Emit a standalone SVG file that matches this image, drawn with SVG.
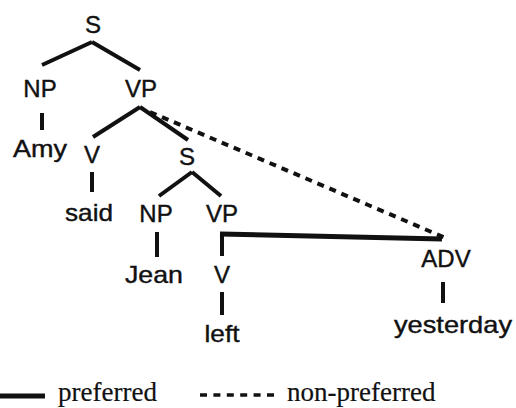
<svg xmlns="http://www.w3.org/2000/svg" width="516" height="408" viewBox="0 0 516 408">
<style>
text{font-family:"Liberation Sans",Arial,sans-serif;font-size:24px;fill:#111;stroke:#111;stroke-width:0.4;text-anchor:middle}
.leg{font-family:"Liberation Serif","Times New Roman",serif;font-size:27px;text-anchor:start;stroke-width:0.2}
.e{stroke:#111;stroke-width:4;fill:none;stroke-linecap:butt}
.pref{stroke:#111;stroke-width:5;fill:none}
.np{stroke:#111;stroke-width:4;fill:none;stroke-dasharray:7 6}
</style>
<rect width="516" height="408" fill="#fff"/>
<g id="connectors">
<line class="e" x1="92" y1="42" x2="42" y2="65"/>
<line class="e" x1="92" y1="42" x2="140" y2="70"/>
<line class="e" x1="42" y1="113" x2="42" y2="130"/>
<line class="e" x1="140" y1="107" x2="93" y2="137"/>
<line class="e" x1="140" y1="107" x2="188" y2="140"/>
<line class="e" x1="92" y1="172" x2="92" y2="192"/>
<line class="e" x1="192" y1="172" x2="159" y2="196"/>
<line class="e" x1="192" y1="172" x2="221" y2="196"/>
<line class="e" x1="157" y1="232" x2="157" y2="257"/>
<line class="e" x1="222" y1="232" x2="222" y2="256"/>
<line class="e" x1="222" y1="292" x2="222" y2="315"/>
<line class="e" x1="443" y1="282" x2="443" y2="303"/>
<line class="np" x1="150" y1="112" x2="448" y2="239"/>
<line class="pref" x1="220" y1="234" x2="442" y2="239"/>
</g>
<g id="S"><text x="93" y="33">S</text></g>
<g id="NP1"><text x="40" y="97">NP</text></g>
<g id="VP1"><text x="141" y="97">VP</text></g>
<g id="Amy"><text x="40" y="157" textLength="54" lengthAdjust="spacingAndGlyphs">Amy</text></g>
<g id="V1"><text x="92" y="163">V</text></g>
<g id="S2"><text x="187" y="165">S</text></g>
<g id="said"><text x="89" y="221" textLength="48" lengthAdjust="spacingAndGlyphs">said</text></g>
<g id="NP2"><text x="156" y="222">NP</text></g>
<g id="VP2"><text x="222" y="222">VP</text></g>
<g id="Jean"><text x="154" y="283" textLength="58" lengthAdjust="spacingAndGlyphs">Jean</text></g>
<g id="V2"><text x="222" y="283">V</text></g>
<g id="ADV"><text x="446" y="267">ADV</text></g>
<g id="left"><text x="222" y="342" textLength="35" lengthAdjust="spacingAndGlyphs">left</text></g>
<g id="yesterday"><text x="453" y="333" textLength="118" lengthAdjust="spacingAndGlyphs">yesterday</text></g>
<g id="legend">
<line class="pref" x1="0" y1="396" x2="45" y2="396"/>
<text class="leg" x="58" y="401">preferred</text>
<line class="np" x1="200" y1="395" x2="274" y2="395" style="stroke-dasharray:7 6.4;stroke-width:3.5"/>
<text class="leg" x="287" y="401">non-preferred</text>
</g>
</svg>
